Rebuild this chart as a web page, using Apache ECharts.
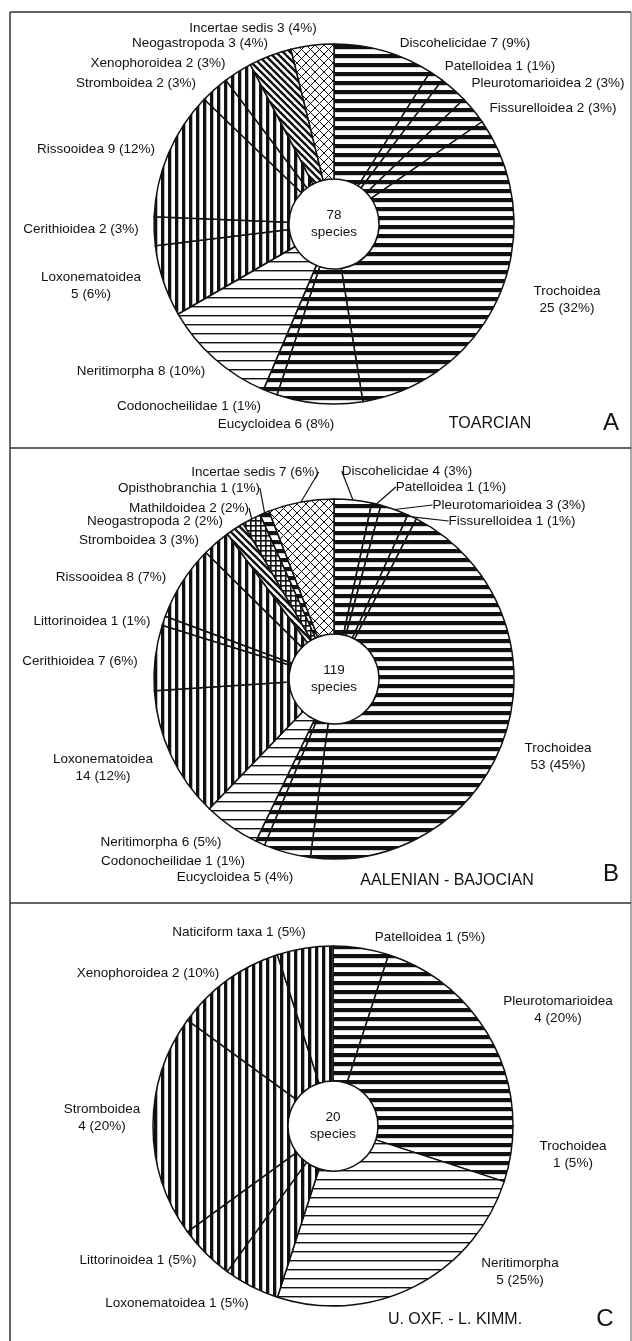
<!DOCTYPE html>
<html>
<head>
<meta charset="utf-8">
<script src="https://cdn.jsdelivr.net/npm/echarts@6/dist/echarts.min.js"></script>
<style>
  html, body { margin: 0; padding: 0; background: #fff; }
  #chart { width: 632px; height: 1341px; }
</style>
</head>
<body>
<div id="chart"></div>
<script>
// --- data: gastropod superfamilies, species counts per stage ---
const namesA = ['Discohelicidae', 'Patelloidea', 'Pleurotomarioidea', 'Fissurelloidea', 'Trochoidea',
  'Eucycloidea', 'Codonocheilidae', 'Neritimorpha', 'Loxonematoidea', 'Cerithioidea',
  'Rissooidea', 'Stromboidea', 'Xenophoroidea', 'Neogastropoda', 'Incertae sedis']
const valuesA = [7, 1, 2, 2, 25, 6, 1, 8, 5, 2, 9, 2, 2, 3, 3]

const namesB = ['Discohelicidae', 'Patelloidea', 'Pleurotomarioidea', 'Fissurelloidea', 'Trochoidea',
  'Eucycloidea', 'Codonocheilidae', 'Neritimorpha', 'Loxonematoidea', 'Cerithioidea',
  'Littorinoidea', 'Rissooidea', 'Stromboidea', 'Neogastropoda', 'Mathildoidea',
  'Opisthobranchia', 'Incertae sedis']
const valuesB = [4, 1, 3, 1, 53, 5, 1, 6, 14, 7, 1, 8, 3, 2, 2, 1, 7]

const namesC = ['Patelloidea', 'Pleurotomarioidea', 'Trochoidea', 'Neritimorpha', 'Loxonematoidea',
  'Littorinoidea', 'Stromboidea', 'Xenophoroidea', 'Naticiform taxa']
const valuesC = [1, 4, 1, 5, 1, 1, 4, 2, 1]

const stages = ['TOARCIAN', 'AALENIAN - BAJOCIAN', 'U. OXF. - L. KIMM.']
const panelLetters = ['A', 'B', 'C']

// --- styling (hatch kind per slice) ---
const fillsA = ['hz', 'hz', 'hz', 'hz', 'hz', 'hz', 'hz', 'thin', 'vt', 'vt', 'vt', 'vt', 'vt', 'diag', 'cross']
const fillsB = ['hz', 'hz', 'hz', 'hz', 'hz', 'hz', 'hz', 'thin', 'vt', 'vt', 'vt', 'vt', 'vt', 'diag', 'grid', 'hz', 'cross']
const fillsC = ['hz', 'hz', 'hz', 'thin', 'vt', 'vt', 'vt', 'vt', 'vt']

// label anchor points (layout only)
const labelPosA = [[465, 43], [500, 66], [548, 83], [553, 108], [567, 300], [276, 424], [189, 406],
  [141, 371], [91, 286], [81, 229], [96, 149], [136, 83], [158, 63], [200, 43], [253, 28]]
const labelPosB = [[407, 471], [451, 487], [509, 505], [512, 521], [558, 757], [235, 877], [173, 861],
  [161, 842], [103, 768], [80, 661], [92, 621], [111, 577], [139, 540], [155, 521], [189, 508],
  [189, 488], [255, 472]]
const labelPosC = [[430, 937], [558, 1010], [573, 1155], [520, 1272], [177, 1303], [138, 1260],
  [102, 1118], [148, 973], [239, 932]]

const wrapA = ['Trochoidea', 'Loxonematoidea']
const wrapB = ['Trochoidea', 'Loxonematoidea']
const wrapC = ['Pleurotomarioidea', 'Trochoidea', 'Neritimorpha', 'Stromboidea']
const arrowsB = ['Discohelicidae', 'Patelloidea', 'Pleurotomarioidea', 'Fissurelloidea',
  'Opisthobranchia', 'Mathildoidea', 'Incertae sedis']

const FONT = '"Liberation Sans", Arial, sans-serif'
const INK = '#111'

function pattern (kind) {
  const c = document.createElement('canvas')
  const ctx = c.getContext('2d')
  let p = 9
  if (kind === 'vt') p = 7
  if (kind === 'grid') p = 5
  if (kind === 'cross') p = 9
  if (kind === 'diag') p = 7
  c.width = p
  c.height = p
  ctx.fillStyle = '#fff'
  ctx.fillRect(0, 0, p, p)
  ctx.fillStyle = INK
  ctx.strokeStyle = INK
  if (kind === 'hz') ctx.fillRect(0, 0, p, 4.2)
  if (kind === 'thin') ctx.fillRect(0, 0, p, 1.4)
  if (kind === 'vt') ctx.fillRect(0, 0, 3.3, p)
  if (kind === 'grid') {
    ctx.fillRect(0, 0, p, 1.6)
    ctx.fillRect(0, 0, 1.6, p)
  }
  if (kind === 'diag' || kind === 'cross') {
    ctx.lineWidth = kind === 'diag' ? 2.4 : 1
    for (let k = -1; k <= 1; k++) {
      ctx.beginPath()
      ctx.moveTo(-1 + k * p, -1)
      ctx.lineTo(p + 1 + k * p, p + 1)
      ctx.stroke()
      if (kind === 'cross') {
        ctx.beginPath()
        ctx.moveTo(-1 + k * p, p + 1)
        ctx.lineTo(p + 1 + k * p, -1)
        ctx.stroke()
      }
    }
  }
  return { image: c, repeat: 'repeat' }
}

function makeSeries (names, values, fills, pos, wrap, arrows, center) {
  const total = values.reduce((a, b) => a + b, 0)
  const data = names.map((n, i) => {
    const item = { name: n, value: values[i], itemStyle: { color: pattern(fills[i]) } }
    if (arrows.indexOf(n) >= 0) {
      item.labelLine = { show: true, length: 4, length2: 0, lineStyle: { color: INK, width: 1.2 } }
    }
    return item
  })
  return {
    type: 'pie',
    center: center,
    radius: [45, 180],
    startAngle: 90,
    clockwise: true,
    silent: true,
    avoidLabelOverlap: false,
    itemStyle: { borderColor: INK, borderWidth: 1.5 },
    label: {
      show: true,
      position: 'outside',
      fontFamily: FONT,
      fontSize: 13.5,
      lineHeight: 17,
      color: INK,
      align: 'center',
      formatter: (p) => {
        const sep = wrap.indexOf(p.name) >= 0 ? '\n' : ' '
        return p.name + sep + p.value + ' (' + Math.round(p.value / total * 100) + '%)'
      }
    },
    labelLine: { show: false },
    labelLayout: (p) => ({
      x: pos[p.dataIndex][0],
      y: pos[p.dataIndex][1],
      align: 'center',
      verticalAlign: 'middle'
    }),
    data: data
  }
}

const centers = [[334, 224], [334, 679], [333, 1126]]
const totals = [valuesA, valuesB, valuesC].map(v => v.reduce((a, b) => a + b, 0))

const graphics = []
// panel frames
;[12, 448, 903].forEach(y => graphics.push({
  type: 'line', shape: { x1: 10, y1: y, x2: 631, y2: y }, style: { stroke: '#333', lineWidth: 1.5 }
}))
graphics.push({ type: 'line', shape: { x1: 10, y1: 12, x2: 10, y2: 1341 }, style: { stroke: '#333', lineWidth: 1.5 } })
graphics.push({ type: 'line', shape: { x1: 631, y1: 12, x2: 631, y2: 1341 }, style: { stroke: '#555', lineWidth: 1 } })

centers.forEach((c, i) => {
  graphics.push({
    type: 'text', x: c[0], y: c[1],
    style: { text: totals[i] + '\nspecies', fontFamily: FONT, fontSize: 13.5, lineHeight: 17,
      fill: INK, align: 'center', verticalAlign: 'middle' }
  })
})

const stagePos = [[490, 424], [447, 881], [455, 1320]]
const letterPos = [[611, 423], [611, 874], [605, 1319]]
stages.forEach((s, i) => {
  graphics.push({
    type: 'text', x: stagePos[i][0], y: stagePos[i][1],
    style: { text: s, fontFamily: FONT, fontSize: 16, fill: INK, align: 'center', verticalAlign: 'middle' }
  })
  graphics.push({
    type: 'text', x: letterPos[i][0], y: letterPos[i][1],
    style: { text: panelLetters[i], fontFamily: FONT, fontSize: 24, fill: INK, align: 'center', verticalAlign: 'middle' }
  })
})

const myChart = echarts.init(document.getElementById('chart'), null, { renderer: 'canvas' })
myChart.setOption({
  backgroundColor: '#fff',
  animation: false,
  graphic: graphics,
  series: [
    makeSeries(namesA, valuesA, fillsA, labelPosA, wrapA, [], centers[0]),
    makeSeries(namesB, valuesB, fillsB, labelPosB, wrapB, arrowsB, centers[1]),
    makeSeries(namesC, valuesC, fillsC, labelPosC, wrapC, [], centers[2])
  ]
})
</script>
</body>
</html>
